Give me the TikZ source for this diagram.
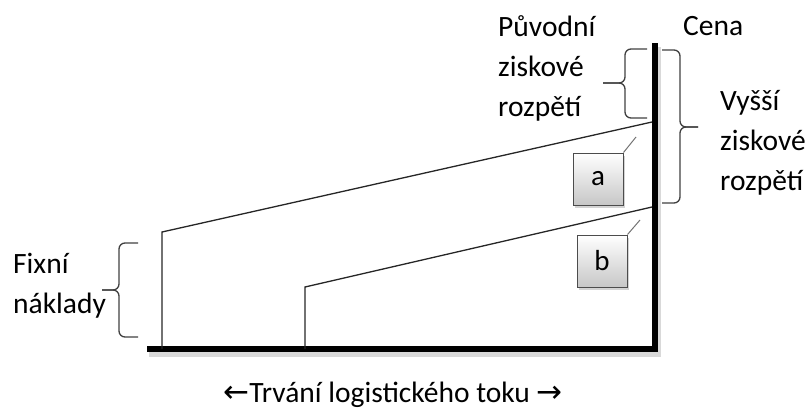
\documentclass[tikz,border=0pt]{standalone}
\usepackage{fontspec}
\setmainfont{Carlito}
\newfontfamily\arrowfont{DejaVu Sans}
\usetikzlibrary{shadows}
\tikzset{
	label/.style = {
		inner sep=0pt,
		align=left,
		anchor=base west,
		font=\fontsize{29.5}{40}\selectfont
	},
	axis/.style = {
		line width=6pt,
		line join=miter
	},
	cost/.style = {
		line width=1.3pt,
		draw=black!85
	},
	brace/.style = {
		line width=1.3pt,
		draw=black!75,
		rounded corners=6pt
	},
	tagbox/.style = {
		draw=black!70,
		line width=1pt,
		top color=white,
		bottom color=black!22,
		minimum width=50pt,
		minimum height=52pt,
		inner sep=0pt,
		font=\fontsize{29}{34}\selectfont,
		drop shadow={opacity=0.35, shadow xshift=2pt, shadow yshift=-3pt}
	},
	callout/.style = {
		line width=1pt,
		draw=black!55
	}
}

\begin{document}
\begin{tikzpicture}[x=1pt, y=-1pt]
	\useasboundingbox (0,0) rectangle (808,408);

	\coordinate (origin) at (147,349);
	\coordinate (corner) at (655,349);
	\coordinate (top) at (655,43);

	% axes with their shadow
	\draw[line width=8pt, black!25, opacity=0.6, line join=miter]
		([shift={(2,4)}]origin) -- ([shift={(2,4)}]corner) -- ([shift={(2,4)}]top);
	\draw[axis] (origin) -- (corner) -- (top);

	% costs
	\coordinate (fixA) at (162,349);
	\coordinate (kneeA) at (162,232);
	\coordinate (endA) at (652,122);
	\coordinate (fixB) at (305,349);
	\coordinate (kneeB) at (305,287);
	\coordinate (endB) at (652,207);
	\draw[cost] (fixA) -- (kneeA) -- (endA);
	\draw[cost] (fixB) -- (kneeB) -- (endB);

	% braces
	\draw[brace] (647,49) -- (625,49) -- (625,83) -- (603,83);
	\draw[brace] (603,83) -- (625,83) -- (625,118) -- (647,118);
	\draw[brace] (662,50) -- (680,50) -- (680,127) -- (698,127);
	\draw[brace] (698,127) -- (680,127) -- (680,203) -- (662,203);
	\draw[brace] (138,243) -- (119,243) -- (119,290) -- (102,290);
	\draw[brace] (102,290) -- (119,290) -- (119,337) -- (138,337);

	% boxes
	\node[tagbox] (a) at (598,179) {a};
	\node[tagbox] (b) at (602,261) {b};
	\coordinate (tipA) at (636,137);
	\coordinate (tipB) at (640,220);
	\draw[callout] (a.north east) -- (tipA);
	\draw[callout] (b.north east) -- (tipB);

	% labels (base = last line)
	\node[label] (puvodni) at (498,116) {Původní\\ziskové\\rozpětí};
	\node[label] (cena) at (683,35) {Cena};
	\node[label] (vyssi) at (720,190) {Vyšší\\ziskové\\rozpětí};
	\node[label] (fixni) at (13,313) {Fixní\\náklady};
	\node[label, anchor=base] (trvani) at (393,402)
		{{\arrowfont\fontsize{31}{31}\selectfont←}Trvání logistického toku {\arrowfont\fontsize{31}{31}\selectfont→}};
\end{tikzpicture}
\end{document}
